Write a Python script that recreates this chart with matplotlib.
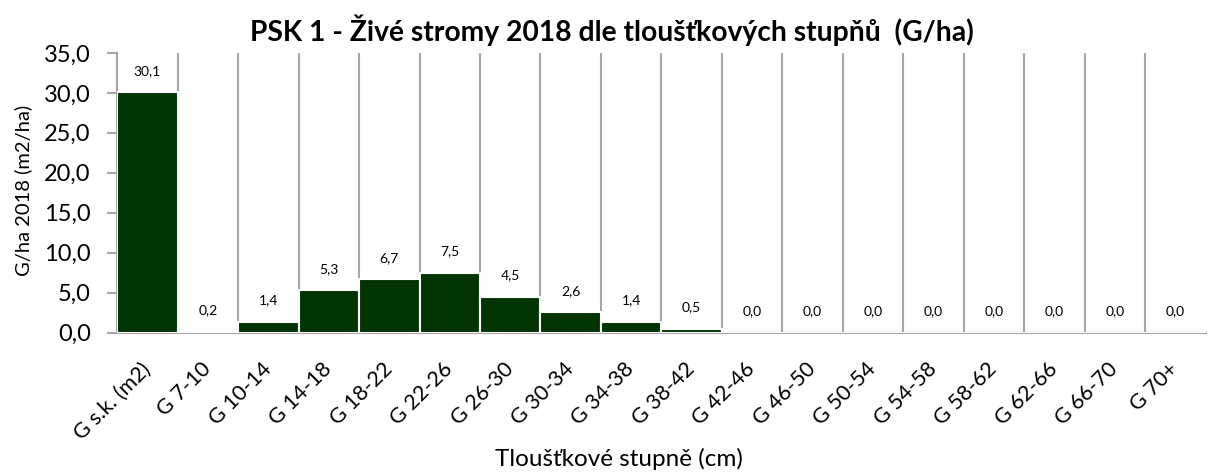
import matplotlib.pyplot as plt
from matplotlib.transforms import ScaledTranslation
import numpy as np

# categories and values (G/ha)
categories = ['G s.k. (m2)', 'G 7-10', 'G 10-14', 'G 14-18', 'G 18-22', 'G 22-26',
              'G 26-30', 'G 30-34', 'G 34-38', 'G 38-42', 'G 42-46', 'G 46-50',
              'G 50-54', 'G 54-58', 'G 58-62', 'G 62-66', 'G 66-70', 'G 70+']
values = [30.1, 0.2, 1.4, 5.3, 6.7, 7.5, 4.5, 2.6, 1.4, 0.5,
          0.0, 0.0, 0.0, 0.0, 0.0, 0.0, 0.0, 0.0]
yticks = [0, 5, 10, 15, 20, 25, 30, 35]

plt.rcParams['font.family'] = ['Lato', 'DejaVu Sans']

fig = plt.figure(figsize=(12.08, 4.72), dpi=100)
ax = fig.add_axes([0.097, 0.295, 0.901, 0.593])

x = np.arange(len(categories))
ax.bar(x, values, width=1.0, color='#023302', edgecolor='white',
       linewidth=1.5, zorder=3)

# vertical grid lines at category boundaries
for b in x[1:] - 0.5:
    ax.axvline(b, color='#a6a6a6', linewidth=1.5, zorder=1)

for xi, v in zip(x, values):
    ax.annotate(f'{v:.1f}'.replace('.', ','), (xi, v), xytext=(0, 11),
                textcoords='offset points', ha='center', va='bottom',
                fontsize=10, zorder=4)

ax.set_xlim(-0.5, len(categories) - 0.5)
ax.set_ylim(0, 35)
ax.set_yticks(yticks)
ax.set_yticklabels([f'{t:.1f}'.replace('.', ',') for t in yticks], fontsize=17)
ax.set_xticks(x)
ax.set_xticklabels(categories, rotation=45, ha='right', va='center',
                   rotation_mode='anchor', fontsize=15.5)
for lbl in ax.get_xticklabels():
    lbl.set_transform(lbl.get_transform() + ScaledTranslation(0.05, 0, fig.dpi_scale_trans))
ax.tick_params(axis='x', length=0, pad=24)
ax.tick_params(axis='y', length=7, color='#a6a6a6', width=1.5, pad=12)

for s in ['top', 'right']:
    ax.spines[s].set_visible(False)
for s in ['left', 'bottom']:
    ax.spines[s].set_color('#a6a6a6')
    ax.spines[s].set_linewidth(1.5)

fig.text(23 / 1208, 1 - 190 / 472, 'G/ha 2018 (m2/ha)', rotation=90,
         ha='center', va='center', fontsize=14.5)
fig.text(619 / 1208, 1 - 459 / 472, 'Tloušťkové stupně (cm)',
         ha='center', va='center', fontsize=17.5)
fig.text(612 / 1208, 1 - 30 / 472,
         'PSK 1 - Živé stromy 2018 dle tloušťkových stupňů  (G/ha)',
         ha='center', va='center', fontsize=20.3, fontweight='bold')

fig.savefig('out.png', dpi=100)
